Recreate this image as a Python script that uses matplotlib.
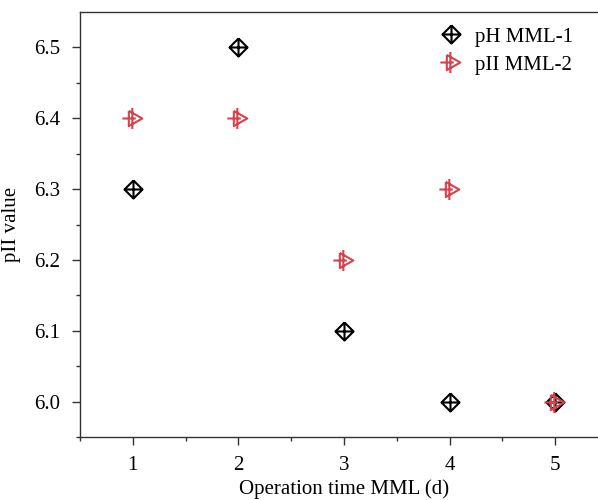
import matplotlib
matplotlib.use("Agg")
import matplotlib.pyplot as plt
from matplotlib.path import Path

plt.rcParams['font.family'] = ['Liberation Serif', 'DejaVu Serif']

days = [1, 2, 3, 4, 5]
ph_mml1 = [6.3, 6.5, 6.1, 6.0, 6.0]
ph_mml2 = [6.4, 6.4, 6.2, 6.3, 6.0]
series_labels = ["pH MML-1", "pII MML-2"]
xticks = [1, 2, 3, 4, 5]
yticks = [6.0, 6.1, 6.2, 6.3, 6.4, 6.5]

# Diamond with a cross inside
M, L = Path.MOVETO, Path.LINETO
diamond_cross = Path(
    [(0, 1), (1, 0), (0, -1), (-1, 0), (0, 1),
     (-1, 0), (1, 0),
     (0, -1), (0, 1)],
    [M, L, L, L, L, M, L, M, L])

# Right-pointing triangle with a cross inside
tri_cross = Path(
    [(-0.4, 0.65), (0.75, 0.0), (-0.4, -0.65), (-0.4, 0.65),
     (-0.95, 0.0), (0.2, 0.0),
     (-0.1, -0.9), (-0.1, 0.9)],
    [M, L, L, L, M, L, M, L])

fig = plt.figure(figsize=(5.98, 5.0), dpi=100)
W, H = 598, 500
left, right, top, bottom = 80, 608, 12, 437
ax = fig.add_axes([left / W, 1 - bottom / H, (right - left) / W, (bottom - top) / H])

red = "#d8434b"
ax.plot(days, ph_mml1, linestyle="none", marker=diamond_cross, markersize=13,
        markerfacecolor="none", markeredgecolor="black", markeredgewidth=1.5,
        label=series_labels[0])
ax.plot(days, ph_mml2, linestyle="none", marker=tri_cross, markersize=16,
        markerfacecolor="none", markeredgecolor=red, markeredgewidth=1.5,
        label=series_labels[1])

ax.set_xlim(0.5, 5.5)
ax.set_ylim(5.95, 6.55)
ax.set_xticks(xticks)
ax.set_yticks(yticks)
ax.set_yticklabels([f"{v:.1f}" for v in yticks])
ax.set_xticks([0.5, 1.5, 2.5, 3.5, 4.5], minor=True)
ax.set_yticks([5.95, 6.05, 6.15, 6.25, 6.35, 6.45], minor=True)
ax.tick_params(axis="both", which="major", direction="out", length=6, width=1,
               labelsize=15, color="#333333", pad=8)
ax.tick_params(axis="both", which="minor", direction="out", length=3, width=1,
               color="#333333")
for s in ax.spines.values():
    s.set_color("#333333")
    s.set_linewidth(1)
ax.spines["right"].set_visible(False)

ax.set_xlabel("Operation time MML (d)", fontsize=15, labelpad=3)
ax.set_ylabel("pII value", fontsize=15, labelpad=10)

leg = ax.legend(loc="upper left", bbox_to_anchor=((433 - left) / (right - left), 0.984),
                frameon=False, fontsize=15, handlelength=0.9, handletextpad=0.7,
                labelspacing=0.4, borderaxespad=0)

fig.savefig("out.png", dpi=100)
